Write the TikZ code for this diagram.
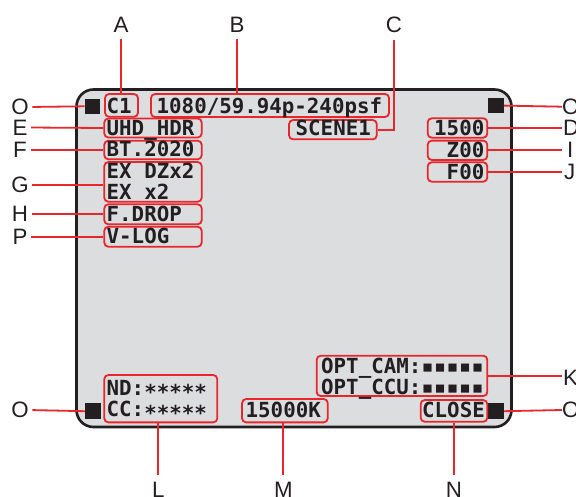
\documentclass[tikz,border=0pt]{standalone}
\usepackage{fontspec}
\setmainfont{Liberation Sans}
\setmonofont{DejaVu Sans Mono}
\definecolor{lred}{HTML}{E8262C}
\definecolor{lcdgray}{HTML}{DCDDDF}
\definecolor{ink}{HTML}{231F20}
\tikzset{
  lead/.style={draw=lred, line width=1.8pt},
  vlead/.style={lead, shorten <=6.5pt},
  llead/.style={lead, shorten <=3.5pt},
  rbox/.style={draw=lred, line width=1.8pt, rounded corners=4pt, inner sep=0pt},
  sq/.style={fill=ink, inner sep=0pt, minimum size=15.5pt},
  lbl/.style={inner sep=0pt, text=ink, font=\fontsize{22.3}{24}\selectfont},
  lcd/.style={inner sep=0pt, text=ink, font=\ttfamily\bfseries\fontsize{20.8}{24}\selectfont},
}
\begin{document}
\begin{tikzpicture}[x=1pt,y=-1pt]
\useasboundingbox (0,0) rectangle (576,497);
% panel
\draw[fill=lcdgray, draw=ink, line width=2.6pt, rounded corners=17pt] (76.5,89.5) rectangle (511.5,427);
% squares
\node[sq] (sqTL) at (92.5,106.3) {};
\node[sq] (sqTR) at (496,105.6) {};
\node[sq] (sqBL) at (92.8,411.2) {};
\node[sq] (sqBR) at (496.2,411.2) {};
% red boxes
\node[rbox, minimum width=33pt, minimum height=22.7pt] (bA) at (121.5,105.4) {};
\node[rbox, minimum width=238pt, minimum height=23pt] (bB) at (270,105.5) {};
\node[rbox, minimum width=87.7pt, minimum height=19.3pt] (bC) at (332.9,129.7) {};
\node[rbox, minimum width=97.4pt, minimum height=19pt] (bE) at (153,128) {};
\node[rbox, minimum width=97.4pt, minimum height=18.6pt] (bF) at (153,150) {};
\node[rbox, minimum width=97.4pt, minimum height=39.7pt] (bG) at (153,181.9) {};
\node[rbox, minimum width=97.4pt, minimum height=20pt] (bH) at (153,214.3) {};
\node[rbox, minimum width=97.4pt, minimum height=20pt] (bP) at (153,236.7) {};
\node[rbox, minimum width=59.6pt, minimum height=19.4pt] (bD) at (457.5,128) {};
\node[rbox, minimum width=59.6pt, minimum height=19.3pt] (bI) at (457.5,150.3) {};
\node[rbox, minimum width=59.6pt, minimum height=19.4pt] (bJ) at (457.5,172) {};
\node[rbox, minimum width=170.6pt, minimum height=40.3pt] (bK) at (402,375.9) {};
\node[rbox, minimum width=113pt, minimum height=47.3pt] (bL) at (160.8,398.7) {};
\node[rbox, minimum width=85.7pt, minimum height=23.3pt] (bM) at (284.9,410.7) {};
\node[rbox, minimum width=66.6pt, minimum height=21.7pt] (bN) at (454,410.9) {};
% LCD texts
\node[lcd, anchor=base west] (tA) at (106.5,114) {C1};
\node[lcd, anchor=base west] (tB) at (156.5,114) {1080/59.94p-240psf};
\node[lcd, anchor=base west] (tC) at (295.5,136) {SCENE1};
\node[lcd, anchor=base west] (tE) at (106.5,135.5) {UHD\_HDR};
\node[lcd, anchor=base west] (tF) at (106.5,156.7) {BT.2020};
\node[lcd, anchor=base west] (tG1) at (106.5,178.3) {EX DZx2};
\node[lcd, anchor=base west] (tG2) at (106.5,200) {EX x2};
\node[lcd, anchor=base west] (tH) at (106.5,221.7) {F.DROP};
\node[lcd, anchor=base west] (tP) at (106.5,243.3) {V-LOG};
\node[lcd, anchor=base east] (tD) at (484.5,136) {1500};
\node[lcd, anchor=base east] (tI) at (484.5,158) {Z00};
\node[lcd, anchor=base east] (tJ) at (484.5,179.3) {F00};
\node[lcd, anchor=base west] (tK1) at (321,373.3) {OPT\_CAM:▪▪▪▪▪};
\node[lcd, anchor=base west] (tK2) at (321,394.3) {OPT\_CCU:▪▪▪▪▪};
\node[lcd, anchor=base west] (tL1) at (106.5,395) {ND:∗∗∗∗∗};
\node[lcd, anchor=base west] (tL2) at (106.5,416.7) {CC:∗∗∗∗∗};
\node[lcd, anchor=base west] (tM) at (245.5,417.3) {15000K};
\node[lcd, anchor=base west] (tN) at (422,417) {CLOSE};
% letters top
\node[lbl] (lA) at (121,25) {A};
\node[lbl] (lB) at (237,25) {B};
\node[lbl] (lC) at (394,25) {C};
% letters left
\node[lbl] (lO1) at (20,107) {O};
\node[lbl] (lE) at (20,127.5) {E};
\node[lbl] (lF) at (20,150) {F};
\node[lbl] (lG) at (20,185) {G};
\node[lbl] (lH) at (20,214.3) {H};
\node[lbl] (lP) at (20,236.7) {P};
\node[lbl] (lO2) at (20,410) {O};
% letters right
\node[lbl, anchor=west] (lO3) at (562,106.7) {O};
\node[lbl, anchor=west] (lD) at (563,128.3) {D};
\node[lbl, anchor=west] (lI) at (567,150) {I};
\node[lbl, anchor=west] (lJ) at (564,171.7) {J};
\node[lbl, anchor=west] (lK) at (563,377.7) {K};
\node[lbl, anchor=west] (lO4) at (562,410) {O};
% letters bottom
\node[lbl] (lL) at (158.3,489.7) {L};
\node[lbl] (lM) at (283.3,489.7) {M};
\node[lbl] (lN) at (454,489.7) {N};
% leaders top
\draw[vlead] (lA.south) -- (lA.south |- bA.north);
\draw[vlead] (lB.south) -- (lB.south |- bB.north);
\draw[vlead] (lC.south) |- (bC.east);
% leaders left
\draw[llead] (lO1.east) -- (sqTL.west);
\draw[llead] (lE.east) -- (bE.west);
\draw[llead] (lF.east) -- (bF.west);
\draw[llead] (lG.east) -- (lG.east -| bG.west);
\draw[llead] (lH.east) -- (bH.west);
\draw[llead] (lP.east) -- (bP.west);
\draw[llead] (lO2.east) -- (sqBL.west);
% leaders right
\draw[lead] (sqTR.east) -- (lO3.west);
\draw[lead] (bD.east) -- (bD.east -| lO3.west);
\draw[lead] (bI.east) -- (bI.east -| lO3.west);
\draw[lead] (bJ.east) -- (bJ.east -| lO3.west);
\draw[lead] (bK.east) -- (bK.east -| lO3.west);
\draw[lead] (sqBR.east) -- (lO4.west);
% leaders bottom
\draw[vlead] (lL.north) -- (lL.north |- bL.south);
\draw[vlead] (lM.north) -- (lM.north |- bM.south);
\draw[vlead] (lN.north) -- (lN.north |- bN.south);
\end{tikzpicture}
\end{document}
